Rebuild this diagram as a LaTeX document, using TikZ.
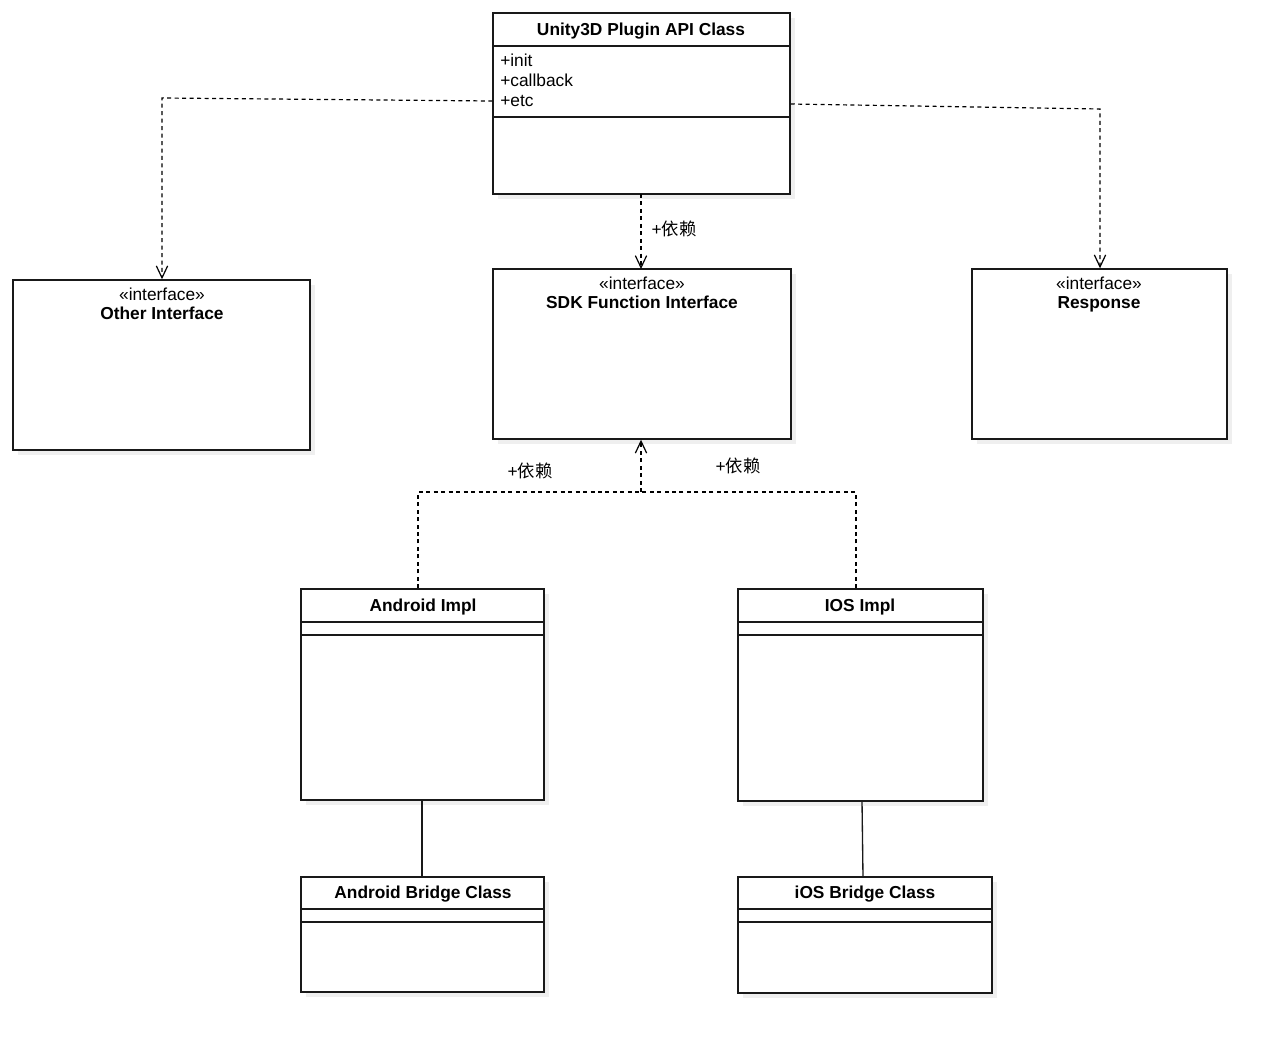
\documentclass[tikz,border=0pt]{standalone}
\usepackage{fontspec}
\setmainfont{Liberation Sans}
\newfontfamily\cjkfont{Noto Sans CJK SC}
\usetikzlibrary{fit,shadows,arrows.meta}
\begin{document}
\begin{tikzpicture}[x=0.75pt,y=-0.75pt,
  umlbox/.style={draw=black!90, line width=1.1pt, fill=white, inner sep=0pt,
    drop shadow={opacity=0.12, shadow xshift=4pt, shadow yshift=-4pt}},
  sep/.style={draw=black!90, line width=1.1pt},
  title/.style={font=\fontsize{13}{15}\selectfont\bfseries, inner sep=0pt, text height=9.5pt, text depth=3pt},
  attr/.style={font=\fontsize{13}{15}\selectfont, inner sep=0pt},
  stereo/.style={font=\fontsize{13}{15}\selectfont, inner sep=0pt, text height=9.5pt, text depth=3pt},
  deplabel/.style={font=\fontsize{13}{15}\selectfont, inner sep=0pt},
  dep/.style={draw=black, line width=0.9pt, dash pattern=on 3pt off 2.6pt},
  deparrow/.style={dep, -{Straight Barb[length=9pt,width=8.5pt,line width=0.9pt]}},
  assoc/.style={draw=black!90, line width=1pt}]
\useasboundingbox (0,0) rectangle (1280,1046);
\fill[white] (0,0) rectangle (1280,1046);

% boxes
\node[umlbox, fit={(493,13) (790,194)}] (unity) {};
\node[umlbox, fit={(13,280) (310,450)}] (other) {};
\node[umlbox, fit={(493,269) (791,439)}] (sdk) {};
\node[umlbox, fit={(972,269) (1227,439)}] (resp) {};
\node[umlbox, fit={(301,589) (544,800)}] (aimpl) {};
\node[umlbox, fit={(738,589) (983,801)}] (iimpl) {};
\node[umlbox, fit={(301,877) (544,992)}] (abridge) {};
\node[umlbox, fit={(738,877) (992,993)}] (ibridge) {};

% compartments
\draw[sep] (unity.west |- 0,46) -- (unity.east |- 0,46);
\draw[sep] (unity.west |- 0,117) -- (unity.east |- 0,117);
\draw[sep] (aimpl.west |- 0,622) -- (aimpl.east |- 0,622);
\draw[sep] (aimpl.west |- 0,635) -- (aimpl.east |- 0,635);
\draw[sep] (iimpl.west |- 0,622) -- (iimpl.east |- 0,622);
\draw[sep] (iimpl.west |- 0,635) -- (iimpl.east |- 0,635);
\draw[sep] (abridge.west |- 0,909) -- (abridge.east |- 0,909);
\draw[sep] (abridge.west |- 0,922) -- (abridge.east |- 0,922);
\draw[sep] (ibridge.west |- 0,909) -- (ibridge.east |- 0,909);
\draw[sep] (ibridge.west |- 0,922) -- (ibridge.east |- 0,922);

% texts
\node[title] (unityT) at (641,31.5) {Unity3D Plugin API Class};
\node[attr, anchor=base west] (a1) at (500,66) {+init};
\node[attr, anchor=base west] (a2) at (500,86) {+callback};
\node[attr, anchor=base west] (a3) at (500,106) {+etc};

\node[stereo] (otherS) at (162,296) {«interface»};
\node[title] (otherT) at (162,315) {Other Interface};
\node[stereo] (sdkS) at (642,285) {«interface»};
\node[title] (sdkT) at (642,304) {SDK Function Interface};
\node[stereo] (respS) at (1099,285) {«interface»};
\node[title] (respT) at (1099,304) {Response};

\node[title] (aimplT) at (423,607) {Android Impl};
\node[title] (iimplT) at (860,607) {IOS Impl};
\node[title] (abridgeT) at (423,894) {Android Bridge Class};
\node[title] (ibridgeT) at (865,894) {iOS Bridge Class};

% dependency connectors
\coordinate (cl) at (162,98);
\coordinate (cr) at (1100,109);
\coordinate (ca) at (418,492);
\coordinate (ci) at (856,492);
\coordinate (cm) at (641,492);

\draw[deparrow] (unity.west |- 0,101) -- (cl) -- (cl |- other.north);
\draw[deparrow] (unity.east |- 0,104) -- (cr) -- (cr |- resp.north);
\draw[deparrow] (641,194) -- (641,269);
\node[deplabel] (l1) at (674,229) {+\cjkfont 依赖};

\draw[dep] (aimpl.north -| ca) -- (ca) -- (cm);
\draw[dep] (iimpl.north -| ci) -- (ci) -- (cm);
\draw[deparrow] (cm) -- (cm |- sdk.south);
\node[deplabel] (l2) at (530,471) {+\cjkfont 依赖};
\node[deplabel] (l3) at (738,466) {+\cjkfont 依赖};

% associations
\draw[assoc] (aimpl.south -| 422,0) -- (abridge.north -| 422,0);
\draw[assoc] (862,801) -- (863,877);
\end{tikzpicture}
\end{document}
